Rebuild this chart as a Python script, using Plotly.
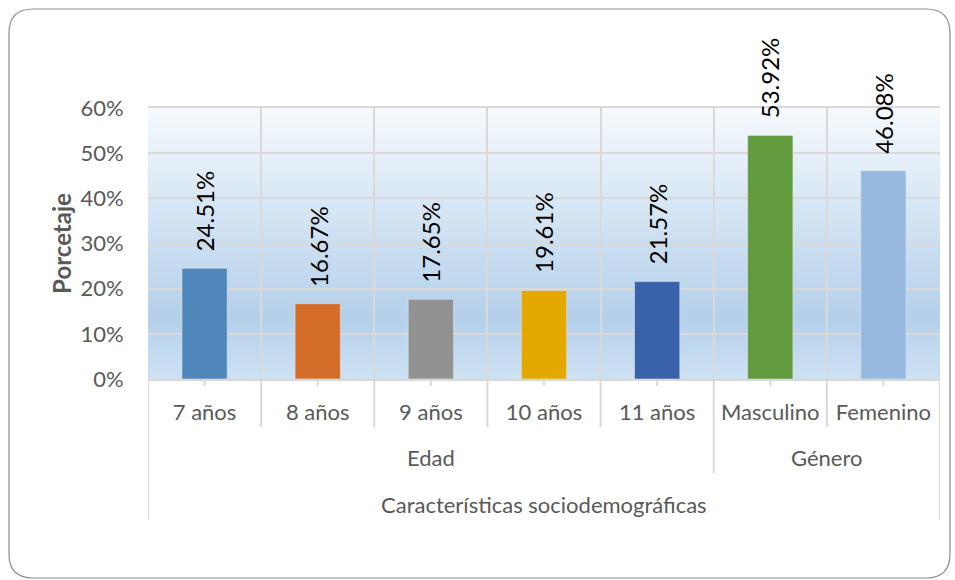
import base64, struct, zlib
import plotly.graph_objects as go

# ---- data ----
categories = ["7 años", "8 años", "9 años", "10 años", "11 años", "Masculino", "Femenino"]
values = [0.2451, 0.1667, 0.1765, 0.1961, 0.2157, 0.5392, 0.4608]
value_labels = ["24.51%", "16.67%", "17.65%", "19.61%", "21.57%", "53.92%", "46.08%"]
groups = ["Edad", "Género"]
group_sizes = [5, 2]
top_label = "Características sociodemográficas"
y_title = "Porcetaje"
bar_colors = ["#4F87BA", "#D46D2A", "#929292", "#E3A900", "#3A62AA", "#629A3E", "#97B8DF"]

# ---- layout geometry (pixels) ----
W, H = 955, 580
L, R, T, B = 148, 940, 108, 379
pw, ph = R - L, B - T

def px(x):
    return (x - L) / pw

def py(y):
    return (B - y) / ph

# ---- gradient background PNG ----
def lerp(a, b, t):
    return tuple(int(round(a[i] + (b[i] - a[i]) * t)) for i in range(3))

stops = [(0.0, (245, 249, 253)), (0.78, (180, 208, 234)), (1.0, (206, 225, 243))]
N = 271
rows = b""
for i in range(N):
    t = i / (N - 1)
    for j in range(len(stops) - 1):
        if stops[j][0] <= t <= stops[j + 1][0]:
            tt = (t - stops[j][0]) / (stops[j + 1][0] - stops[j][0])
            c = lerp(stops[j][1], stops[j + 1][1], tt)
            break
    rows += b"\x00" + bytes(c)

def chunk(tag, data):
    return struct.pack(">I", len(data)) + tag + data + struct.pack(">I", zlib.crc32(tag + data) & 0xffffffff)

png = b"\x89PNG\r\n\x1a\n" + chunk(b"IHDR", struct.pack(">IIBBBBB", 1, N, 8, 2, 0, 0, 0)) + \
      chunk(b"IDAT", zlib.compress(rows)) + chunk(b"IEND", b"")
uri = "data:image/png;base64," + base64.b64encode(png).decode()

FONT = "Lato"
GRAY = "#595959"
GRID = "#D9D9D9"

fig = go.Figure()
fig.add_trace(go.Bar(
    x=categories, y=values, marker_color=bar_colors, width=0.4,
    hoverinfo="skip", showlegend=False,
))

annotations = []
for c, v, lab in zip(categories, values, value_labels):
    annotations.append(dict(
        x=c, y=v, xref="x", yref="y", text=lab, showarrow=False,
        textangle=-90, yanchor="bottom", xanchor="center", yshift=15,
        font=dict(family=FONT, size=24, color="#000000"),
    ))

# group labels
shapes = []
start = 0
for g, n in zip(groups, group_sizes):
    center = start + (n - 1) / 2
    annotations.append(dict(
        x=center, y=py(457), xref="x", yref="paper", text=g, showarrow=False,
        yanchor="middle", font=dict(family=FONT, size=22, color=GRAY),
    ))
    start += n
annotations.append(dict(
    x=(len(categories) - 1) / 2, y=py(504), xref="x", yref="paper", text=top_label,
    showarrow=False, yanchor="middle", font=dict(family=FONT, size=22, color=GRAY),
))

# divider lines of the multi-level axis
boundaries_end = {}
for i in range(len(categories) + 1):
    boundaries_end[i] = py(427)
acc = 0
for n in group_sizes:
    boundaries_end[acc] = py(473)
    acc += n
    boundaries_end[acc] = py(473)
boundaries_end[0] = py(520)
boundaries_end[len(categories)] = py(520)
for i, yend in boundaries_end.items():
    shapes.append(dict(type="line", xref="x", yref="paper", x0=i - 0.5, x1=i - 0.5,
                       y0=0, y1=yend, line=dict(color=GRID, width=2)))
for i in range(len(categories)):
    shapes.append(dict(type="line", xref="x", yref="paper", x0=i, x1=i,
                       y0=0, y1=py(386), line=dict(color=GRID, width=2)))

# rounded outer frame
x0, x1, y0, y1 = px(9), px(950), py(9), py(578)
rx, ry = 24 / pw, 24 / ph
path = (f"M {x0+rx},{y0} L {x1-rx},{y0} Q {x1},{y0} {x1},{y0-ry} "
        f"L {x1},{y1+ry} Q {x1},{y1} {x1-rx},{y1} L {x0+rx},{y1} "
        f"Q {x0},{y1} {x0},{y1+ry} L {x0},{y0-ry} Q {x0},{y0} {x0+rx},{y0} Z")
shapes.append(dict(type="path", xref="paper", yref="paper", path=path,
                   line=dict(color="#8C8C8C", width=1.2), layer="below"))

fig.update_layout(
    width=W, height=H,
    margin=dict(l=L, r=W - R, t=T, b=H - B),
    paper_bgcolor="white", plot_bgcolor="rgba(0,0,0,0)",
    font=dict(family=FONT, color=GRAY),
    images=[dict(source=uri, xref="paper", yref="paper", x=0, y=1, sizex=1, sizey=1,
                 sizing="stretch", layer="below")],
    annotations=annotations, shapes=shapes,
    bargap=0.6,
)
fig.update_xaxes(
    type="category", range=[-0.5, len(categories) - 0.5], tickson="boundaries",
    showgrid=True, gridcolor=GRID, gridwidth=2,
    ticks="", ticklabelstandoff=13,
    tickfont=dict(family=FONT, size=22, color=GRAY),
    showline=True, linecolor=GRID, linewidth=2, mirror=True,
)
fig.update_yaxes(
    range=[0, 0.6], dtick=0.1, tickformat=".0%",
    showgrid=True, gridcolor=GRID, gridwidth=2, zeroline=False,
    ticks="outside", ticklen=19, tickcolor="rgba(0,0,0,0)",
    tickfont=dict(family=FONT, size=22, color=GRAY),
    title=dict(text=f"<b>{y_title}</b>", font=dict(family=FONT, size=24, color=GRAY), standoff=2),
)

fig.write_html("out.html", config={"displayModeBar": False},
               post_script="document.body.style.margin='0';")
